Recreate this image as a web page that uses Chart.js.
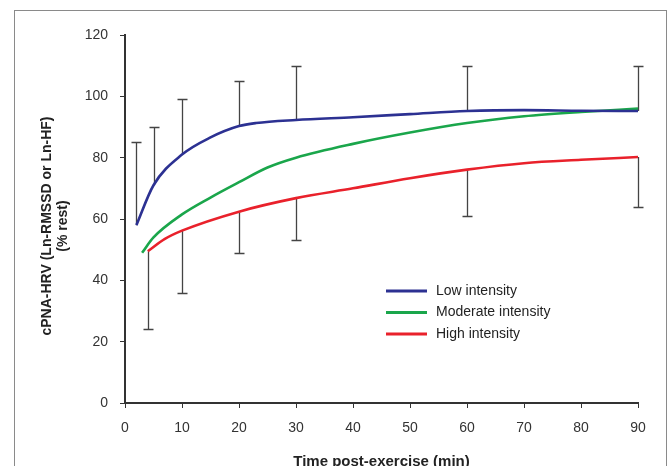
<!DOCTYPE html>
<html>
<head>
<meta charset="utf-8">
<script src="https://cdn.jsdelivr.net/npm/chart.js@4.4.0/dist/chart.umd.min.js"></script>
<style>
    body { margin: 0; background: #fff; }
</style>
</head>
<body>
<canvas id="myChart" width="669" height="466"></canvas>
<script>
// series (x = minutes, y = % rest)
var low_x = [2, 5, 10, 15, 20, 23, 30, 40, 50, 60, 70, 80, 90];
var low_y = [58, 71, 81, 86.6, 90.3, 91.3, 92.3, 93.2, 94.2, 95.2, 95.5, 95.3, 95.2];
var mod_x = [3, 5, 10, 15, 20, 25, 30, 40, 50, 60, 70, 80, 90];
var mod_y = [49, 54, 61.5, 67, 72, 76.8, 80, 84.5, 88.2, 91.3, 93.5, 94.9, 96];
var high_x = [4, 7, 10, 20, 30, 40, 50, 60, 70, 80, 90];
var high_y = [49.5, 53.5, 56.2, 62.4, 66.8, 70, 73.3, 76.1, 78.2, 79.3, 80.2];

// error bars: upper ones rise from the low intensity line, lower ones drop from the high intensity line
var upper_x = [2, 5, 10, 20, 30, 60, 90];
var upper_y = [85, 90, 99, 105, 110, 110, 110];
var lower_x = [4, 10, 20, 30, 60, 90];
var lower_y = [24, 36, 49, 53, 61, 64];

var labels = ["Low intensity", "Moderate intensity", "High intensity"];
var colors = ["#2c3192", "#1aa64b", "#e9212b"];
var y_title = ["cPNA-HRV (Ln-RMSSD or Ln-HF)", "(% rest)"];
var font = "'Liberation Sans', Arial, sans-serif";

function points(xs, ys) {
    var out = [];
    for (i = 0; i < xs.length; i++) {
        out.push({x: xs[i], y: ys[i]});
    }
    return out;
}

function lookup(xs, ys, x) {
    return ys[xs.indexOf(x)];
}

var frame = {
    id: "frame",
    beforeDraw: function(chart) {
        var c = chart.ctx;
        c.save();
        c.fillStyle = "#fff";
        c.fillRect(0, 0, chart.width, chart.height);
        c.strokeStyle = "#8a8a8a";
        c.lineWidth = 1;
        c.strokeRect(14.5, 10.5, 652, 480);
        c.restore();
    }
};

var errorBars = {
    id: "errorBars",
    beforeDatasetsDraw: function(chart) {
        var c = chart.ctx;
        var xs = chart.scales.x;
        var ys = chart.scales.y;
        c.save();
        c.strokeStyle = "#444";
        c.lineWidth = 1.3;
        function bar(x, from, to) {
            var px = Math.round(xs.getPixelForValue(x)) + 0.5;
            var p1 = ys.getPixelForValue(from);
            var p2 = Math.round(ys.getPixelForValue(to)) + 0.5;
            c.beginPath();
            c.moveTo(px, p1);
            c.lineTo(px, p2);
            c.moveTo(px - 5, p2);
            c.lineTo(px + 5, p2);
            c.stroke();
        }
        for (i = 0; i < upper_x.length; i++) {
            bar(upper_x[i], lookup(low_x, low_y, upper_x[i]), upper_y[i]);
        }
        for (i = 0; i < lower_x.length; i++) {
            bar(lower_x[i], lookup(high_x, high_y, lower_x[i]), lower_y[i]);
        }
        c.restore();
    }
};

// legend inside the plot + the two-line y title
var extras = {
    id: "extras",
    afterDraw: function(chart) {
        var c = chart.ctx;
        c.save();
        c.font = "14px " + font;
        c.textBaseline = "middle";
        chart.data.datasets.forEach(function(ds, n) {
            var y = 291 + n * 21.5;
            c.strokeStyle = ds.borderColor;
            c.lineWidth = 3;
            c.beginPath();
            c.moveTo(386, y);
            c.lineTo(427, y);
            c.stroke();
            c.fillStyle = "#222";
            c.fillText(ds.label, 436, y);
        });

        c.translate(47, 226);
        c.rotate(-Math.PI / 2);
        c.font = "bold 14px " + font;
        c.textAlign = "center";
        c.fillStyle = "#222";
        c.fillText(y_title[0], 0, 0);
        c.fillText(y_title[1], 0, 16);
        c.restore();
    }
};

var datasets = [
    {label: labels[0], data: points(low_x, low_y), borderColor: colors[0]},
    {label: labels[1], data: points(mod_x, mod_y), borderColor: colors[1]},
    {label: labels[2], data: points(high_x, high_y), borderColor: colors[2]}
];
datasets.forEach(function(ds) {
    ds.borderWidth = 2.6;
    ds.pointRadius = 0;
    ds.fill = false;
    ds.cubicInterpolationMode = "monotone";
});

var chart = new Chart(document.getElementById("myChart"), {
    type: "line",
    data: {datasets: datasets},
    plugins: [frame, errorBars, extras],
    options: {
        responsive: false,
        animation: false,
        devicePixelRatio: 1,
        layout: {
            padding: {left: 0, top: 35, right: 31, bottom: 0}
        },
        plugins: {
            legend: {display: false},
            tooltip: {enabled: false}
        },
        scales: {
            x: {
                type: "linear",
                min: 0,
                max: 90,
                afterFit: function(s) { s.height = 63; },
                ticks: {stepSize: 10, color: "#333", padding: 12, font: {family: font, size: 14}},
                grid: {drawOnChartArea: false, drawTicks: true, tickLength: 5, color: "#333"},
                border: {display: true, color: "#333", width: 2},
                title: {
                    display: true,
                    text: "Time post-exercise (min)",
                    color: "#222",
                    font: {family: font, size: 15, weight: "bold"},
                    padding: {top: 0, bottom: -5}
                }
            },
            y: {
                min: 0,
                max: 120,
                afterFit: function(s) { s.width = 125; },
                ticks: {stepSize: 20, color: "#333", padding: 12, font: {family: font, size: 14}},
                grid: {drawOnChartArea: false, drawTicks: true, tickLength: 5, color: "#333"},
                border: {display: true, color: "#333", width: 2}
            }
        }
    }
});
</script>
</body>
</html>
